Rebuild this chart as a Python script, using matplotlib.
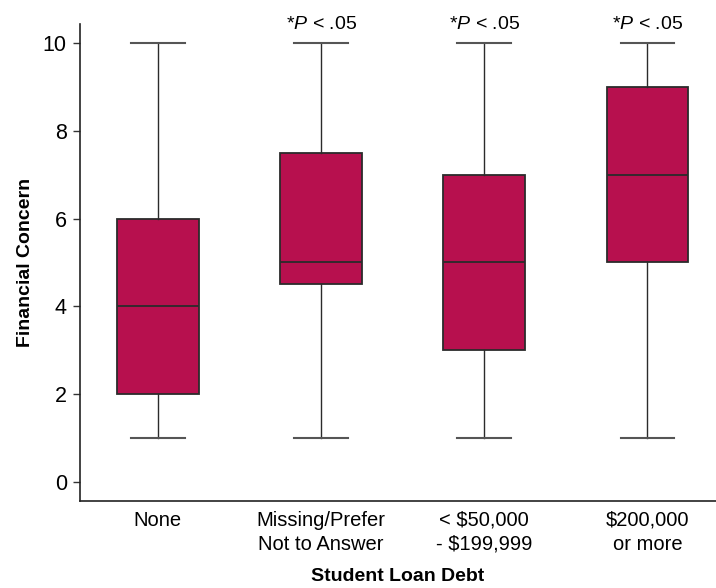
import matplotlib
matplotlib.use("Agg")
import matplotlib.pyplot as plt

plt.rcParams['font.family'] = ['Liberation Sans', 'DejaVu Sans']
plt.rcParams['mathtext.fontset'] = 'custom'
plt.rcParams['mathtext.rm'] = 'Liberation Sans'
plt.rcParams['mathtext.it'] = 'Liberation Sans:italic'

categories = ["None", "Missing/Prefer\nNot to Answer", "< $50,000\n- $199,999", "$200,000\nor more"]
whislo = [1, 1, 1, 1]
q1 = [2, 4.5, 3, 5]
med = [4, 5, 5, 7]
q3 = [6, 7.5, 7, 9]
whishi = [10, 10, 10, 10]
annotations = ["", "*$P$ < .05", "*$P$ < .05", "*$P$ < .05"]
yticks = [0, 2, 4, 6, 8, 10]

stats = [dict(whislo=a, q1=b, med=c, q3=d, whishi=e, fliers=[], label=l)
         for a, b, c, d, e, l in zip(whislo, q1, med, q3, whishi, categories)]

fig = plt.figure(figsize=(7.16, 5.88), dpi=100)
ax = fig.add_axes([80/716, 87/588, 636/716, 477/588])
pos = list(range(1, len(categories) + 1))
ax.bxp(stats, positions=pos, widths=0.5, patch_artist=True, showfliers=False,
       boxprops=dict(facecolor='#B7104E', edgecolor='#2b2b2b', linewidth=1.3),
       medianprops=dict(color='#2b2b2b', linewidth=1.3),
       whiskerprops=dict(color='#2b2b2b', linewidth=1.0),
       capprops=dict(color='#555555', linewidth=1.5),
       capwidths=0.33)

ax.set_xlim(0.523, 4.42)
ax.set_ylim(-0.43, 10.43)
ax.set_yticks(yticks)
ax.set_xticks(pos)
ax.set_xticklabels(categories, fontsize=14.5, linespacing=1.35)
ax.tick_params(axis='x', length=0, pad=7)
ax.tick_params(axis='y', labelsize=15.5, length=5, width=1, color='#333333', pad=4.5)
for s in ['top', 'right']:
    ax.spines[s].set_visible(False)
for s in ['left', 'bottom']:
    ax.spines[s].set_color('#222222')
    ax.spines[s].set_linewidth(1.2)

for p, t, hi in zip(pos, annotations, whishi):
    if t:
        ax.text(p, hi + 0.22, t, ha='center', va='bottom', fontsize=14)

ax.set_ylabel("Financial Concern", fontsize=14, fontweight='bold', labelpad=6)
ax.set_xlabel("Student Loan Debt", fontsize=14, fontweight='bold', labelpad=10)

fig.savefig("out.png", dpi=100)
